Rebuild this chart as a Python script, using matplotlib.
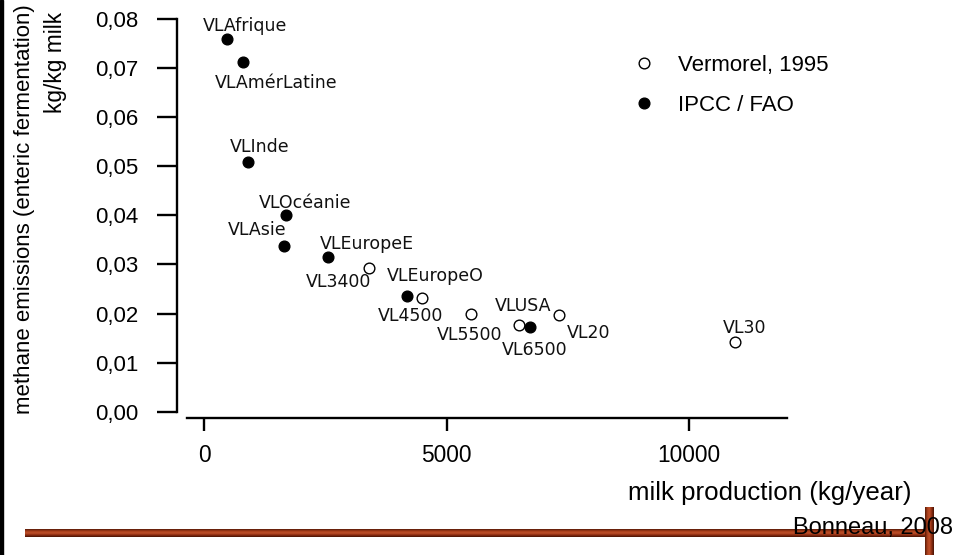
import numpy as np
import matplotlib
matplotlib.use('Agg')
import matplotlib.pyplot as plt
import matplotlib.ticker as mticker
from matplotlib.patches import Rectangle
from matplotlib.colors import LinearSegmentedColormap
from matplotlib import font_manager

# Vermorel, 1995 (open circles)
verm_labels = ['VL3400', 'VL4500', 'VL5500', 'VL6500', 'VL20', 'VL30']
verm_milk = [3400, 4490, 5510, 6490, 7310, 10950]
verm_ch4 = [0.0293, 0.0232, 0.0199, 0.0177, 0.0196, 0.0141]

# IPCC / FAO (filled circles)
ipcc_labels = ['VLAfrique', 'VLAmérLatine', 'VLInde', 'VLOcéanie', 'VLAsie',
               'VLEuropeE', 'VLEuropeO', 'VLUSA']
ipcc_milk = [480, 800, 900, 1695, 1645, 2550, 4190, 6710]
ipcc_ch4 = [0.0759, 0.0713, 0.0509, 0.0400, 0.0337, 0.0316, 0.0236, 0.0173]

xticks = [0, 5000, 10000]
yticks = [0.00, 0.01, 0.02, 0.03, 0.04, 0.05, 0.06, 0.07, 0.08]

# label offsets from the point, in pixels (text baseline centre)
verm_off = [(-30, -19.5), (-11, -23.5), (-2, -25.5), (16, -30.5), (30, -22.5), (9, 9.5)]
ipcc_off = [(18, 8.5), (33, -26.5), (12, 9.5), (19, 7.5), (-27, 11.5),
            (39, 7.5), (28, 14.5), (-7, 15.5)]

names = {f.name for f in font_manager.fontManager.ttflist}
if 'Liberation Sans Narrow' in names:
    narrow, nscale = 'Liberation Sans Narrow', 1.0
else:
    narrow, nscale = 'Liberation Sans', 0.82
regular = 'Liberation Sans'

W, H = 955, 555
fig = plt.figure(figsize=(W / 100, H / 100), dpi=100)
ax = fig.add_axes([187.3 / W, 1 - 411.7 / H, (786.7 - 187.3) / W, (411.7 - 19) / H])

ax.plot(verm_milk, verm_ch4, 'o', ls='none', ms=7.7, mfc='white', mec='black', mew=1.0,
        label='Vermorel, 1995', clip_on=False)
ax.plot(ipcc_milk, ipcc_ch4, 'o', ls='none', ms=7.7, color='black',
        label='IPCC / FAO', clip_on=False)

for lab, x, y, off in zip(verm_labels + ipcc_labels, verm_milk + ipcc_milk,
                          verm_ch4 + ipcc_ch4, verm_off + ipcc_off):
    ax.annotate(lab, xy=(x, y), xytext=off, textcoords='offset pixels',
                ha='center', va='baseline', fontsize=12.5, family='DejaVu Sans',
                color='#111111')

ax.set_xlim(-344, 12007)
ax.set_ylim(0, 0.08)
ax.set_xticks(xticks)
ax.set_yticks(yticks)
ax.yaxis.set_major_formatter(mticker.FuncFormatter(lambda v, p: ('%.2f' % v).replace('.', ',')))

for s in ['top', 'right']:
    ax.spines[s].set_visible(False)
ax.spines['left'].set_position(('outward', 10 * 0.72))
ax.spines['bottom'].set_position(('outward', 6.6 * 0.72))
for s in ['left', 'bottom']:
    ax.spines[s].set_linewidth(1.7)
ax.tick_params(axis='y', length=14.4, width=1.7, pad=13.5, labelsize=16)
ax.tick_params(axis='x', length=9.6, width=1.7, pad=9.0, labelsize=20 * nscale)
for t in ax.get_yticklabels():
    t.set_family(regular)
for t in ax.get_xticklabels():
    t.set_family(narrow)

leg = ax.legend(loc='center left', bbox_to_anchor=(632.5 / W, 1 - 85.5 / H),
                bbox_transform=fig.transFigure, frameon=False, handlelength=1.0,
                handletextpad=1.03, labelspacing=0.85, borderpad=0, borderaxespad=0,
                numpoints=1, prop={'family': narrow, 'size': 19.5 * nscale})

# axis titles
fig.text(30 / W, 1 - 4 / H, 'methane emissions (enteric fermentation)', rotation=90,
         rotation_mode='anchor', ha='right', va='baseline', family=narrow,
         fontsize=19.5 * nscale)
fig.text(62 / W, 1 - 12 / H, 'kg/kg milk', rotation=90, rotation_mode='anchor',
         ha='right', va='baseline', family=narrow, fontsize=20 * nscale)
fig.text(770 / W, 1 - 500 / H, 'milk production (kg/year)', ha='center', va='baseline',
         family=regular, fontsize=18.6)

# decorative frame: black left edge and wooden bars
fig.patches.append(Rectangle((0, 0), 2.7 / W, 1, transform=fig.transFigure,
                             color='black', zorder=0))
wood = LinearSegmentedColormap.from_list('wood', ['#5e1c08', '#a8401c', '#c0502a', '#8e2e12', '#4e1606'])
grad = np.linspace(0, 1, 16).reshape(-1, 1)
bar_h = fig.add_axes([25 / W, 1 - 537 / H, (930 - 25) / W, 8 / H])
bar_h.imshow(grad, aspect='auto', cmap=wood, extent=(0, 1, 0, 1))
bar_h.axis('off')
bar_v = fig.add_axes([925 / W, 0, 8.3 / W, 48 / H])
bar_v.imshow(grad.T, aspect='auto', cmap=wood, extent=(0, 1, 0, 1))
bar_v.axis('off')

fig.text(953 / W, 1 - 534 / H, 'Bonneau, 2008', ha='right', va='baseline',
         family=regular, fontsize=17, zorder=10)

fig.savefig('out.png', dpi=100)
